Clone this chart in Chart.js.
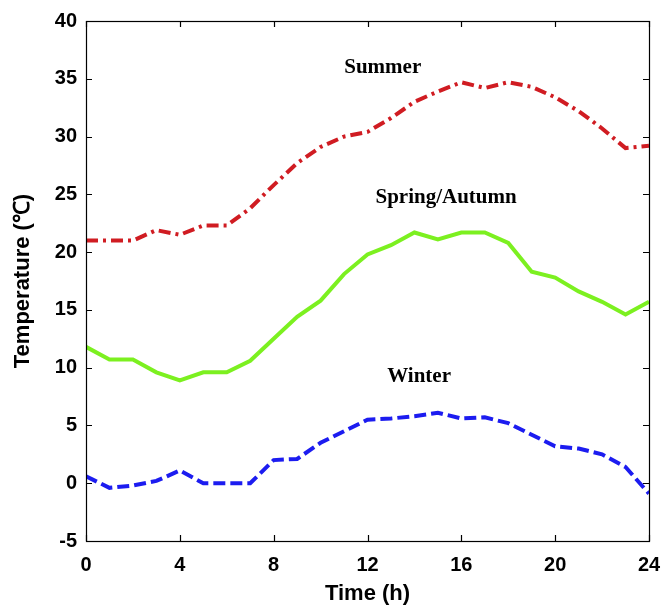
<!DOCTYPE html>
<html>
<head>
<meta charset="utf-8">
<script src="https://cdn.jsdelivr.net/npm/chart.js@4.4.1/dist/chart.umd.min.js"></script>
<style>
html,body{margin:0;padding:0;background:#fff;}
#wrap{width:661px;height:608px;}
</style>
</head>
<body>
<div id="wrap"><canvas id="c" width="661" height="608"></canvas></div>
<script>
const hours = [0,1,2,3,4,5,6,7,8,9,10,11,12,13,14,15,16,17,18,19,20,21,22,23,24];
const summer = [21.0,21.0,21.0,21.9,21.5,22.3,22.3,23.8,25.8,27.7,29.1,30.0,30.4,31.6,33.0,33.9,34.7,34.2,34.7,34.3,33.4,32.2,30.7,29.0,29.2];
const springAutumn = [11.8,10.7,10.7,9.6,8.9,9.6,9.6,10.6,12.5,14.4,15.8,18.1,19.8,20.6,21.7,21.1,21.7,21.7,20.8,18.3,17.8,16.6,15.7,14.6,15.7];
const winter = [0.6,-0.4,-0.2,0.2,1.1,0.0,0.0,0.0,2.0,2.1,3.5,4.5,5.5,5.6,5.8,6.1,5.6,5.7,5.2,4.2,3.2,3.0,2.5,1.4,-0.9];
const xTicks = [0,4,8,12,16,20,24];
const yTicks = [-5,0,5,10,15,20,25,30,35,40];
const seriesNames = ['Summer','Spring/Autumn','Winter'];
// label anchors in data coordinates (hour, temperature)
const labelHours = [12.65, 15.35, 14.2];
const labelTemps = [36.0, 24.7, 9.2];

const toPts = arr => hours.map((h,i)=>({x:h,y:arr[i]}));

const boxPlugin = {
  id:'box',
  afterDraw(chart){
    const {ctx, chartArea:a, scales:{x,y}} = chart;
    ctx.save();
    ctx.strokeStyle = '#000';
    ctx.lineWidth = 1.2;
    ctx.strokeRect(a.left+0.5, a.top+0.5, a.right-a.left, a.bottom-a.top);
    const L = 6;
    ctx.beginPath();
    xTicks.forEach(v=>{
      const px = Math.round(x.getPixelForValue(v))+0.5;
      ctx.moveTo(px,a.bottom); ctx.lineTo(px,a.bottom-L);
      ctx.moveTo(px,a.top); ctx.lineTo(px,a.top+L);
    });
    yTicks.forEach(v=>{
      const py = Math.round(y.getPixelForValue(v))+0.5;
      ctx.moveTo(a.left,py); ctx.lineTo(a.left+L,py);
      ctx.moveTo(a.right,py); ctx.lineTo(a.right-L,py);
    });
    ctx.stroke();
    // series labels
    ctx.fillStyle = '#000';
    ctx.font = 'bold 21px "Liberation Serif", "Times New Roman", serif';
    ctx.textAlign = 'center';
    ctx.textBaseline = 'middle';
    seriesNames.forEach((n,i)=>{
      ctx.fillText(n, x.getPixelForValue(labelHours[i]), y.getPixelForValue(labelTemps[i]));
    });
    ctx.restore();
  }
};

const tickFont = {family:'"Liberation Sans", Arial, sans-serif', size:20, weight:'bold'};
const titleFont = {family:'"Liberation Sans", Arial, sans-serif', size:22, weight:'bold'};

new Chart(document.getElementById('c'), {
  type:'line',
  data:{
    datasets:[
      {label:seriesNames[0], data:toPts(summer), borderColor:'#d01c22', borderWidth:4, borderDash:[12,5,3,5], pointRadius:0, tension:0, fill:false},
      {label:seriesNames[1], data:toPts(springAutumn), borderColor:'#7cf020', borderWidth:4, pointRadius:0, tension:0, fill:false},
      {label:seriesNames[2], data:toPts(winter), borderColor:'#1c1cf0', borderWidth:4, borderDash:[12,5], pointRadius:0, tension:0, fill:false}
    ]
  },
  options:{
    responsive:false,
    animation:false,
    devicePixelRatio:1,
    layout:{padding:{left:0,right:0,top:17,bottom:0}},
    plugins:{legend:{display:false}, tooltip:{enabled:false}},
    scales:{
      x:{
        type:'linear', min:0, max:24,
        afterFit(s){ s.height = 67; s.paddingRight = 12; s.paddingLeft = 0; },
        afterBuildTicks(s){ s.ticks = xTicks.map(v=>({value:v})); },
        grid:{display:false, drawTicks:false},
        border:{display:false},
        ticks:{color:'#000', font:tickFont, padding:12, maxRotation:0, autoSkip:false},
        title:{display:true, text:'Time (h)', color:'#000', font:titleFont, padding:{top:0,bottom:1}}
      },
      y:{
        type:'linear', min:-5, max:40,
        afterFit(s){ s.width = 86; },
        afterBuildTicks(s){ s.ticks = yTicks.map(v=>({value:v})); },
        grid:{display:false, drawTicks:false},
        border:{display:false},
        ticks:{color:'#000', font:tickFont, padding:9, autoSkip:false},
        title:{display:true, text:'Temperature (℃)', color:'#000', font:titleFont, padding:{top:10,bottom:0}}
      }
    }
  },
  plugins:[boxPlugin]
});
</script>
</body>
</html>
